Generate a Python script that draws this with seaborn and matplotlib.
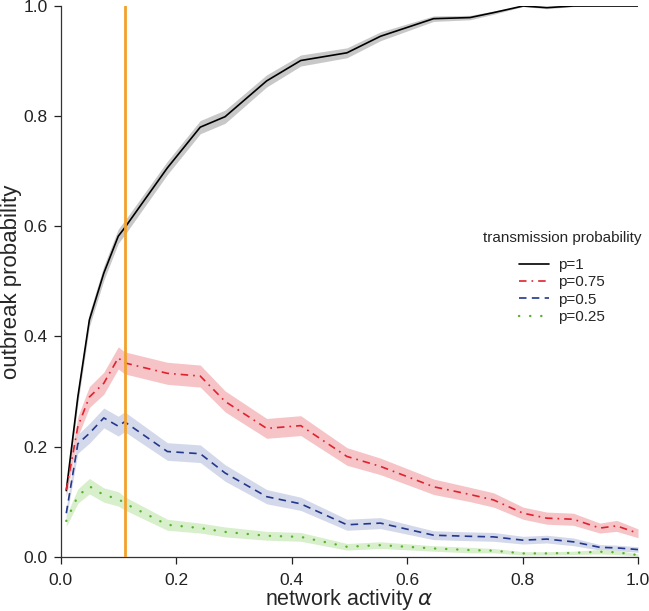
import numpy as np
import pandas as pd
import matplotlib.pyplot as plt
import seaborn as sns
from matplotlib.lines import Line2D

# network activity grid
alpha = [0.01, 0.03, 0.05, 0.075, 0.1, 0.111, 0.185, 0.242, 0.285, 0.357, 0.416,
         0.496, 0.554, 0.646, 0.709, 0.75, 0.801, 0.842, 0.888, 0.934, 0.963, 1.0]

# outbreak probability per transmission probability
p_100 = [0.12, 0.29, 0.43, 0.515, 0.582, 0.597, 0.706, 0.78, 0.799, 0.864, 0.901,
         0.915, 0.945, 0.977, 0.979, 0.988, 1.0, 0.997, 1.0, 1.0, 1.0, 1.0]
p_075 = [0.121, 0.236, 0.29, 0.315, 0.361, 0.352, 0.333, 0.328, 0.282, 0.233, 0.238,
         0.182, 0.164, 0.127, 0.113, 0.103, 0.079, 0.07, 0.068, 0.052, 0.056, 0.0425]
p_050 = [0.079, 0.205, 0.224, 0.252, 0.237, 0.245, 0.191, 0.187, 0.152, 0.109, 0.096,
         0.058, 0.061, 0.039, 0.037, 0.036, 0.030, 0.032, 0.027, 0.017, 0.016, 0.013]
p_025 = [0.065, 0.11, 0.128, 0.112, 0.105, 0.097, 0.058, 0.052, 0.045, 0.038, 0.036,
         0.018, 0.021, 0.015, 0.012, 0.011, 0.006, 0.006, 0.007, 0.009, 0.008, 0.003]

# half widths of the shaded bands
hw_100 = [0.01, 0.012, 0.012, 0.013, 0.013, 0.013, 0.012, 0.012, 0.012, 0.011, 0.01,
          0.009, 0.008, 0.005, 0.004, 0.003, 0.001, 0.002, 0.001, 0.0, 0.0, 0.0]
hw_075 = [0.012, 0.018, 0.019, 0.02, 0.02, 0.02, 0.02, 0.02, 0.019, 0.018, 0.018,
          0.016, 0.015, 0.014, 0.013, 0.013, 0.011, 0.011, 0.011, 0.009, 0.01, 0.008]
hw_050 = [0.01, 0.017, 0.018, 0.018, 0.018, 0.018, 0.016, 0.016, 0.015, 0.013, 0.012,
          0.010, 0.010, 0.008, 0.008, 0.008, 0.007, 0.007, 0.007, 0.005, 0.005, 0.005]
hw_025 = [0.01, 0.013, 0.014, 0.013, 0.013, 0.012, 0.01, 0.009, 0.009, 0.008, 0.008,
          0.006, 0.006, 0.005, 0.005, 0.004, 0.003, 0.003, 0.003, 0.004, 0.004, 0.002]

labels = ['p=1', 'p=0.75', 'p=0.5', 'p=0.25']
alpha_marker = 0.111

sns.set_style('ticks')
plt.rcParams['font.family'] = ['Liberation Sans', 'DejaVu Sans']
plt.rcParams['mathtext.fontset'] = 'dejavusans'

fig = plt.figure(figsize=(6.49, 6.11), dpi=100)
ax = fig.add_axes([60.5 / 649, (611 - 556.7) / 611, 577.5 / 649, 550.7 / 611])

# (values, half width, line colour, band colour, line style, line width, cap)
series = [
    (p_100, hw_100, '#000000', '#c8c8c8', '-', 1.2, 'butt'),
    (p_075, hw_075, '#e0222e', '#f6c3c6', (0, (4.5, 3.0, 1.0, 3.0)), 1.2, 'butt'),
    (p_050, hw_050, '#23378c', '#d3d9ea', (0, (4.5, 3.2)), 1.2, 'butt'),
    (p_025, hw_025, '#5ab030', '#d8efcb', (0, (0.1, 4.6)), 1.7, 'round'),
]

handles = []
for (vals, hw, lc, bc, ls, lw, cap), lab in zip(series, labels):
    df = pd.DataFrame({'alpha': alpha, 'prob': vals, 'hw': hw})
    ax.fill_between(df['alpha'], df['prob'] - df['hw'], df['prob'] + df['hw'],
                    color=bc, lw=0, zorder=1)
    sns.lineplot(data=df, x='alpha', y='prob', ax=ax, color=lc, lw=lw,
                 linestyle=ls, dash_capstyle=cap, zorder=3)
    handles.append(Line2D([], [], color=lc, lw=lw, linestyle=ls,
                          dash_capstyle=cap, label=lab))

ax.axvline(alpha_marker, color='#f2a12c', lw=2, zorder=4)

ax.set_xlim(0, 1)
ax.set_ylim(0, 1)
ticks = np.arange(0, 1.01, 0.2)
ax.set_xticks(ticks)
ax.set_yticks(ticks)
ax.set_xticklabels([f'{v:.1f}' for v in ticks])
ax.set_yticklabels([f'{v:.1f}' for v in ticks])
ax.tick_params(direction='out', length=5, width=0.9, labelsize=12.5,
               colors='#222222', pad=4)
ax.tick_params(axis='x', pad=7)
for s in ['top', 'right']:
    ax.spines[s].set_visible(False)
for s in ['left', 'bottom']:
    ax.spines[s].set_linewidth(0.9)
    ax.spines[s].set_color('#333333')

ax.set_xlabel(r'network activity $\alpha$', fontsize=15.5)
ax.set_ylabel('outbreak probability', fontsize=16)
ax.xaxis.set_label_coords(0.5, -0.055)
ax.yaxis.set_label_coords(-0.067, 0.5)

# legend title drawn separately so its gap to the entries matches
ax.text(0.868, (556.7 - 238) / 550.7, 'transmission probability', fontsize=11,
        ha='center', va='center', transform=ax.transAxes)
leg = ax.legend(handles=handles, frameon=False, fontsize=11, loc='center',
                bbox_to_anchor=(0.868, 0.4825), handlelength=1.95,
                handletextpad=0.6, labelspacing=0.22)

fig.savefig('out.png', dpi=100)
